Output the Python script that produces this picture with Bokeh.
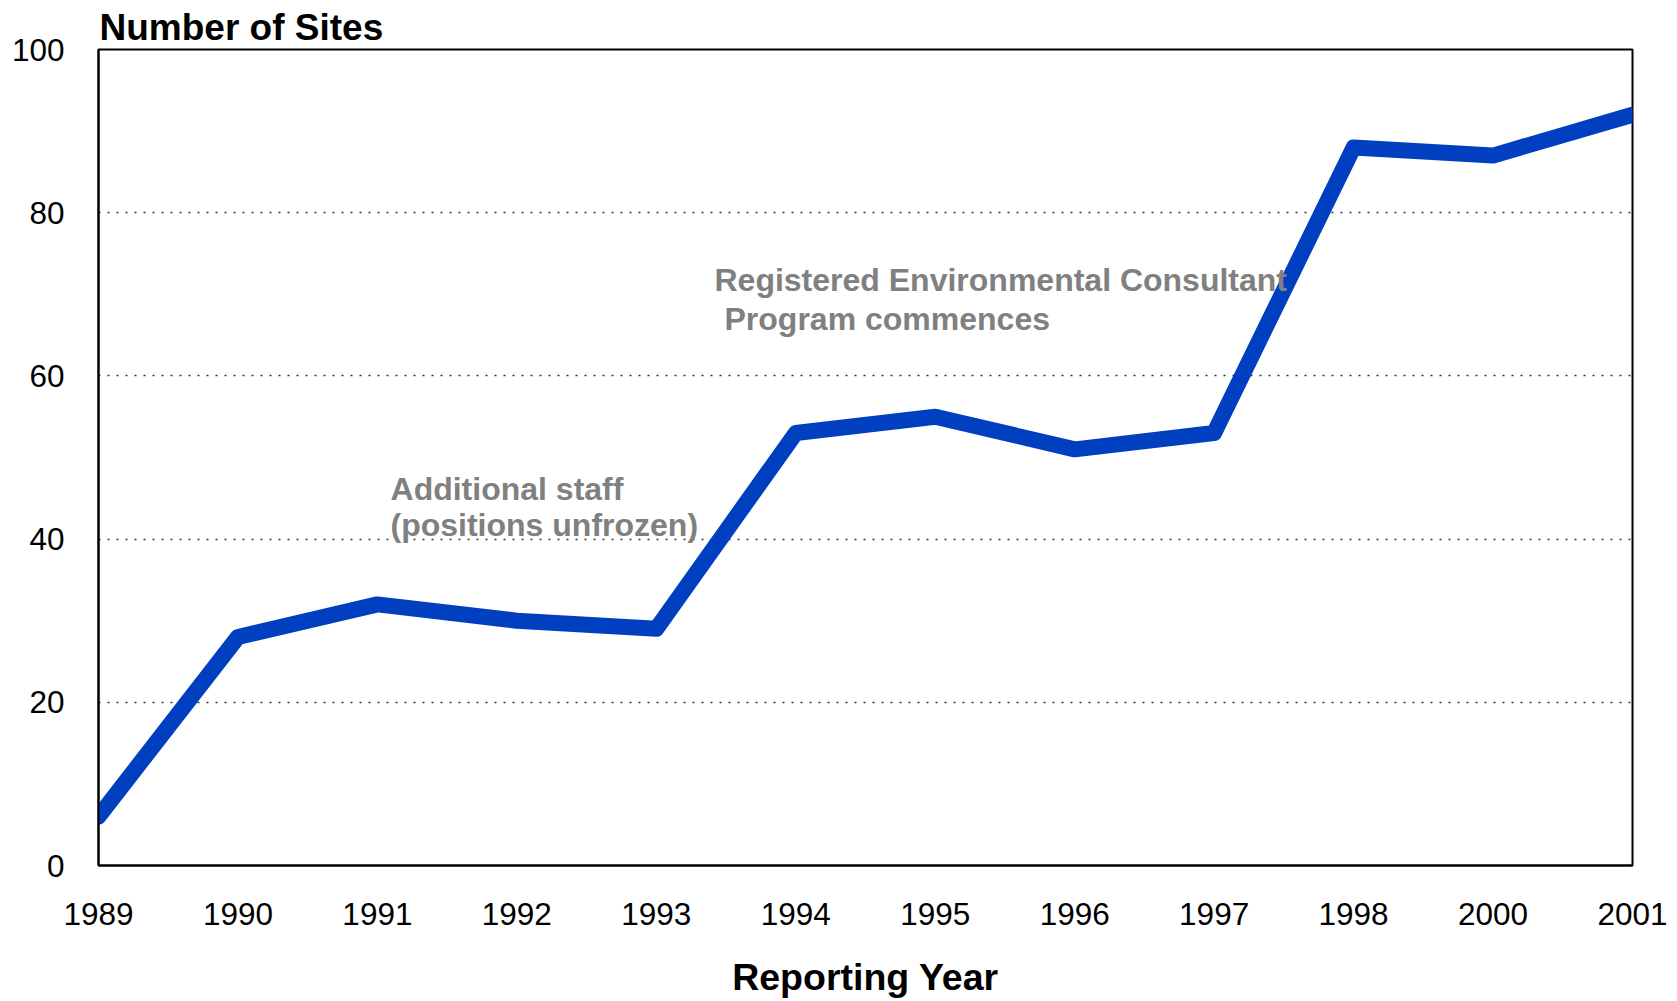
from bokeh.plotting import figure
from bokeh.models import FixedTicker, Label, ColumnDataSource, Range1d
from bokeh.embed import file_html
from bokeh.resources import INLINE

# ---- data ----
years = ["1989", "1990", "1991", "1992", "1993", "1994", "1995", "1996",
         "1997", "1998", "2000", "2001"]
sites = [6, 28, 32, 30, 29, 53, 55, 51, 53, 88, 87, 92]
y_ticks = [0, 20, 40, 60, 80, 100]

title_text = "Number of Sites"
x_title = "Reporting Year"
note1 = ["Additional staff", "(positions unfrozen)"]
note2 = ["Registered Environmental Consultant", "Program commences"]

FONT = "Liberation Sans"

x_pos = list(range(len(years)))
src = ColumnDataSource(dict(x=x_pos, y=sites, year=years))

p = figure(width=1677, height=1001, output_backend="svg", toolbar_location=None,
           x_range=Range1d(0, len(years) - 1), y_range=Range1d(0, 100),
           min_border_left=98, min_border_right=45, min_border_top=49,
           min_border_bottom=136, background_fill_color="white",
           border_fill_color="white")

p.line("x", "y", source=src, line_width=16, line_color="#0040C0",
       line_cap="round", line_join="round")

# title
p.title.text = title_text
p.title.align = "left"
p.title.offset = 1
p.title.standoff = 4
p.title.text_font = FONT
p.title.text_font_size = "37px"
p.title.text_font_style = "bold"
p.title.text_color = "black"

# axes
p.xaxis.ticker = FixedTicker(ticks=x_pos)
p.xaxis.major_label_overrides = {i: y for i, y in enumerate(years)}
p.yaxis.ticker = FixedTicker(ticks=y_ticks)
for ax in (p.xaxis[0], p.yaxis[0]):
    ax.major_tick_line_color = None
    ax.minor_tick_line_color = None
    ax.major_tick_out = 0
    ax.major_tick_in = 0
    ax.axis_line_color = "black"
    ax.axis_line_width = 2
    ax.major_label_text_font = FONT
    ax.major_label_text_font_size = "31.5px"
    ax.major_label_text_color = "black"
p.xaxis.major_label_standoff = 37
p.yaxis.major_label_standoff = 34

p.xaxis.axis_label = x_title
p.xaxis.axis_label_text_font = FONT
p.xaxis.axis_label_text_font_size = "37.5px"
p.xaxis.axis_label_text_font_style = "bold"
p.xaxis.axis_label_text_color = "black"
p.xaxis.axis_label_standoff = 28

p.outline_line_color = "black"
p.outline_line_width = 2
p.outline_line_alpha = 1

p.xgrid.visible = False
p.ygrid.ticker = FixedTicker(ticks=y_ticks)
p.ygrid.grid_line_color = "#333333"
p.ygrid.grid_line_width = 1.3
p.ygrid.grid_line_dash = "2 7"

# annotations
NOTE_COLOR = "#808080"
for txt, xx, yy in [(note1[0], 2.094, 46.2), (note1[1], 2.094, 41.7),
                    (note2[0], 4.417, 71.8), (note2[1], 4.489, 67.0)]:
    p.add_layout(Label(x=xx, y=yy, text=txt, text_font=FONT,
                       text_font_size="32px", text_font_style="bold",
                       text_color=NOTE_COLOR, text_baseline="middle",
                       text_align="left"))

open("out.html", "w").write(file_html(p, INLINE))
